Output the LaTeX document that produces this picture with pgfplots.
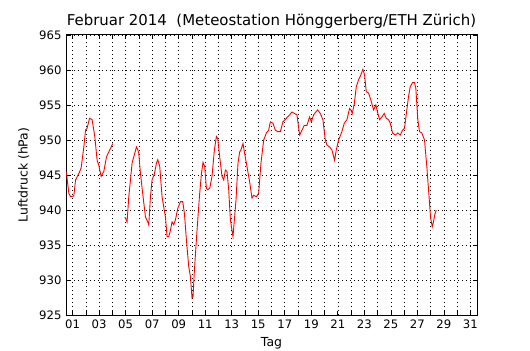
\documentclass[border=0pt]{standalone}
\usepackage{pgfplots}
\pgfplotsset{compat=1.18}
\usepackage{fontspec}
\setmainfont{DejaVu Sans}
\begin{document}
\begin{tikzpicture}[x=1bp,y=1bp]
\useasboundingbox (0,0) rectangle (530,350);
\begin{axis}[
  at={(66bp,35bp)}, anchor=south west,
  scale only axis, width=411bp, height=280bp,
  xmin=0.5, xmax=31.5, ymin=925, ymax=965,
  xtick={1,...,31},
  xticklabels={01,,03,,05,,07,,09,,11,,13,,15,,17,,19,,21,,23,,25,,27,,29,,31},
  ytick={925,930,...,965},
  /pgf/number format/assume math mode=true,
  yticklabel style={/pgf/number format/1000 sep={}, xshift=-1bp},
  xticklabel style={yshift=-1bp},
  tick label style={font=\fontsize{11.7}{13}\selectfont},
  label style={font=\fontsize{12.5}{14}\selectfont},
  title style={font=\fontsize{15}{17}\selectfont, yshift=-3bp},
  title={Februar 2014\ \ (Meteostation Hönggerberg/ETH Zürich)},
  xlabel={Tag}, ylabel={Luftdruck (hPa)},
  xlabel style={yshift=-2bp},
  ylabel style={yshift=3bp},
  grid=major,
  major grid style={black, dash pattern=on 0.8bp off 3.2bp, line width=0.55bp},
  tick align=inside, tick pos=both,
  major tick length=4bp,
  tick style={black, line width=0.6bp},
  axis line style={line width=1bp},
]
\addplot[red, line width=0.9bp] coordinates {
(0.50,945.5) (0.540,945.2) (0.714,942.4) (0.842,941.9) (1.090,942.0) (1.219,944.3)
(1.467,945.2) (1.641,946.0) (1.844,949.0) (1.972,951.4) (2.093,951.7) (2.274,953.1)
(2.469,952.9) (2.673,950.5) (2.846,947.1) (2.974,946.4) (3.148,944.8) (3.351,945.5)
(3.555,947.6) (3.728,948.3) (3.856,948.8) (4.029,949.5)
};
\addplot[red, line width=0.9bp] coordinates {
(4.934,939.0) (4.999,938.8) (5.107,938.3) (5.235,941.9) (5.363,944.3) (5.484,946.7)
(5.612,947.6) (5.815,949.0) (5.914,948.6) (5.989,948.1) (6.117,945.2) (6.313,941.9)
(6.494,939.0) (6.667,938.3) (6.742,937.9) (6.870,941.9) (6.991,944.3) (7.172,945.2)
(7.323,946.7) (7.421,947.2) (7.571,946.2) (7.745,941.9) (8.001,939.0) (8.121,936.2)
(8.249,936.2) (8.378,937.1) (8.498,938.3) (8.626,937.9) (8.754,938.6) (8.928,940.2)
(9.131,941.2) (9.305,941.2) (9.433,939.5) (9.583,935.7) (9.757,931.9) (9.885,930.5)
(10.005,927.4) (10.081,927.6) (10.186,931.4) (10.382,937.1) (10.563,941.9) (10.714,945.2)
(10.834,946.8) (10.962,946.2) (11.090,943.1) (11.188,942.9) (11.339,943.1) (11.512,944.8)
(11.693,948.6) (11.844,950.5) (11.942,950.2) (12.093,947.6) (12.266,944.8) (12.394,944.3)
(12.524,945.7) (12.643,945.5) (12.771,942.9) (12.899,938.6) (13.020,937.1) (13.095,936.2)
(13.201,938.6) (13.321,941.4) (13.472,946.7) (13.600,948.3) (13.698,948.6) (13.849,949.5)
(13.954,948.3) (14.150,946.2) (14.353,944.0) (14.527,941.7) (14.656,942.1) (14.858,941.9)
(15.031,942.4) (15.205,946.7) (15.410,950.0) (15.612,951.0) (15.785,951.4) (15.913,952.6)
(16.109,952.4) (16.291,951.4) (16.464,951.2) (16.667,951.2) (16.863,952.6) (17.119,953.1)
(17.368,953.6) (17.541,954.0) (17.722,953.8) (17.918,953.6) (18.123,950.7) (18.295,951.4)
(18.475,952.1) (18.672,952.1) (18.875,953.3) (19.004,952.6) (19.177,953.6) (19.479,954.3)
(19.681,953.8) (19.877,952.9) (20.058,950.0) (20.179,949.3) (20.382,949.0) (20.556,948.6)
(20.759,947.1) (20.887,948.6) (21.060,950.0) (21.309,951.2) (21.490,952.4) (21.686,952.9)
(21.739,953.3) (21.889,954.5) (21.987,954.3) (22.093,953.8) (22.244,955.2) (22.394,957.6)
(22.568,958.6) (22.741,959.3) (22.892,960.1) (23.020,959.3) (23.148,956.9) (23.321,956.7)
(23.495,955.7) (23.698,954.3) (23.871,955.0) (24.022,953.8) (24.150,952.9) (24.323,953.3)
(24.504,953.8) (24.655,953.1) (24.828,952.9) (24.956,952.4) (25.129,951.0) (25.333,950.7)
(25.529,951.0) (25.710,950.7) (25.883,951.4) (26.034,951.7) (26.207,954.3) (26.335,956.2)
(26.463,957.6) (26.637,958.2) (26.787,958.2) (26.885,957.4) (27.036,952.9) (27.164,951.2)
(27.337,951.0) (27.540,950.0) (27.714,946.2) (27.865,942.4) (27.993,939.0) (28.121,937.6)
(28.219,938.3) (28.309,939.3) (28.422,940.0)
};
\end{axis}
\end{tikzpicture}
\end{document}
